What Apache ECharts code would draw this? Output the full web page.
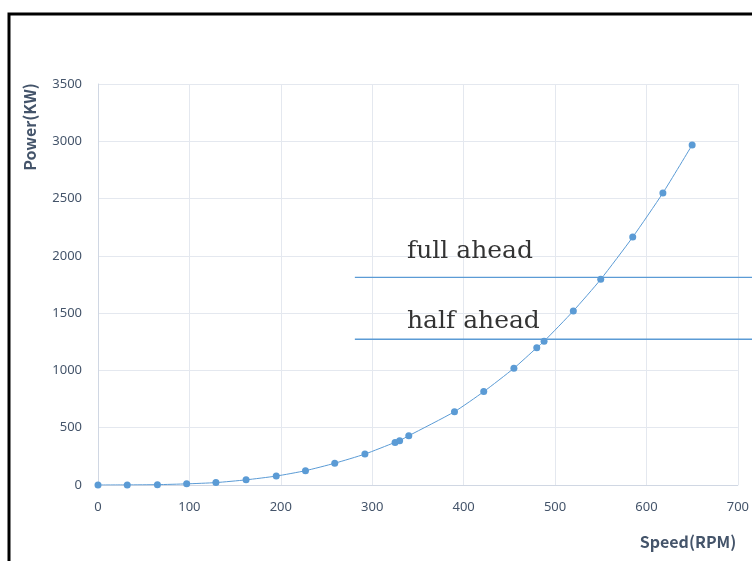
<!DOCTYPE html>
<html>
<head>
<meta charset="utf-8">
<script src="https://cdn.jsdelivr.net/npm/echarts@6/dist/echarts.min.js"></script>
<style>
html,body{margin:0;padding:0;background:#fff;}
#chart{width:752px;height:561px;}
</style>
</head>
<body>
<div id="chart"></div>
<script>
var speed = [0, 32, 65, 97, 129, 162, 195, 227, 259, 292, 325, 330, 340, 390, 422, 455, 480, 488, 520, 550, 585, 618, 650];
var power = [0, 1, 3, 10, 21, 45, 78, 125, 190, 270, 372, 387, 430, 640, 815, 1019, 1198, 1254, 1519, 1795, 2164, 2549, 2968];
var refNames = ['full ahead', 'half ahead'];
var refPower = [1813, 1272];
var refStart = 281;
var refLabelPos = [[338, 2042], [338, 1431]];
var xTitle = 'Speed(RPM)';
var yTitle = 'Power(KW)';

var chart = echarts.init(document.getElementById('chart'));
var color = '#5b9bd5';
var series = [{
  type: 'line',
  data: speed.map(function (s, i) { return [s, power[i]]; }),
  smooth: 0.2,
  symbol: 'circle',
  symbolSize: 7,
  itemStyle: { color: color },
  lineStyle: { color: color, width: 1 },
  z: 5
}];
refNames.forEach(function (n, i) {
  series.push({
    type: 'scatter',
    data: [refLabelPos[i]],
    symbolSize: 0,
    label: {
      show: true,
      position: 'inside',
      align: 'left',
      verticalAlign: 'middle',
      formatter: n,
      fontFamily: 'DejaVu Serif',
      fontSize: 25,
      color: '#000'
    },
    silent: true,
    z: 6
  });
});

var baseGraphic = [
  { type: 'rect', shape: { x: 9, y: 14, width: 800, height: 600 }, style: { fill: 'none', stroke: '#000', lineWidth: 3 }, z: 100 },
  { type: 'text', x: 30, y: 127, rotation: Math.PI / 2,
    style: { text: yTitle, fill: '#44546a', font: 'bold 16px "Noto Sans CJK JP"', textAlign: 'center', textVerticalAlign: 'middle' } },
  { type: 'text', x: 688, y: 542,
    style: { text: xTitle, fill: '#44546a', font: 'bold 16px "Noto Sans CJK JP"', textAlign: 'center', textVerticalAlign: 'middle' } }
];

chart.setOption({
  animation: false,
  grid: { left: 98, right: 12, top: 84, bottom: 76 },
  xAxis: {
    type: 'value', min: 0, max: 700, interval: 100,
    axisLine: { show: true, lineStyle: { color: '#d0d7e3' } },
    axisTick: { show: false },
    splitLine: { show: true, lineStyle: { color: '#e4e8ef' } },
    axisLabel: { color: '#44546a', fontSize: 13, fontFamily: 'Noto Sans', margin: 16 }
  },
  yAxis: {
    type: 'value', min: 0, max: 3500, interval: 500,
    axisLine: { show: true, lineStyle: { color: '#d0d7e3' } },
    axisTick: { show: false },
    splitLine: { show: true, lineStyle: { color: '#e4e8ef' } },
    axisLabel: { color: '#44546a', fontSize: 13, fontFamily: 'Noto Sans', margin: 16, formatter: function (v) { return String(v); } }
  },
  graphic: baseGraphic,
  series: series
});

// reference lines: start at data coordinate, run to the right edge of the canvas
var lines = refPower.map(function (p) {
  var a = chart.convertToPixel({ gridIndex: 0 }, [refStart, p]);
  return { type: 'line', shape: { x1: a[0], y1: a[1], x2: chart.getWidth(), y2: a[1] },
    style: { stroke: color, lineWidth: 1.3 }, z: 3 };
});
chart.setOption({ graphic: baseGraphic.concat(lines) });
</script>
</body>
</html>
